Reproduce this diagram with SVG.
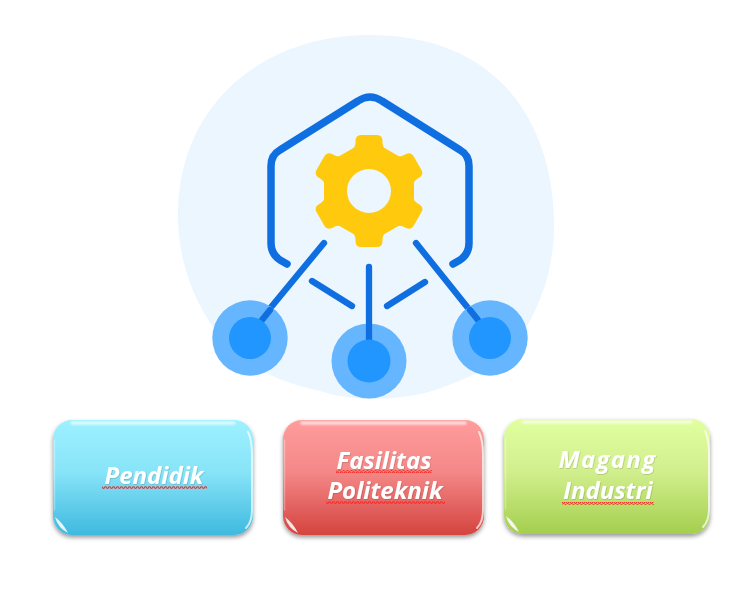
<svg xmlns="http://www.w3.org/2000/svg" width="746" height="616" viewBox="0 0 746 616">
<style>
.link{fill:none;stroke:#0F6FE0;stroke-width:6.300;stroke-linecap:round;stroke-linejoin:round}
.outer{fill:#66B5FF}
.inner{fill:#2196FF}
.lbl{font-family:"Open Sans","Liberation Sans",sans-serif;font-size:24px;font-weight:700;font-style:italic;fill:#fff;text-anchor:middle;filter:url(#ts)}
.hl{fill:none;stroke:#fff;stroke-linecap:round}
.glint{fill:#fff;opacity:.85}
</style>
<defs>
<linearGradient id="gc" x1="0" y1="0" x2="0" y2="1"><stop offset="0" stop-color="#9DF1FF"/><stop offset=".45" stop-color="#88E4F8"/><stop offset="1" stop-color="#3FB9DF"/></linearGradient>
<linearGradient id="gr" x1="0" y1="0" x2="0" y2="1"><stop offset="0" stop-color="#FF9C9C"/><stop offset=".45" stop-color="#F48888"/><stop offset="1" stop-color="#D4443F"/></linearGradient>
<linearGradient id="gg" x1="0" y1="0" x2="0" y2="1"><stop offset="0" stop-color="#E0FF9F"/><stop offset=".45" stop-color="#D2EF8E"/><stop offset="1" stop-color="#A4CF4E"/></linearGradient>
<filter id="sh" x="-10%" y="-10%" width="120%" height="125%"><feDropShadow dx="0" dy="2.500" stdDeviation="2.200" flood-color="#000" flood-opacity=".4"/></filter>
<filter id="ts" x="-10%" y="-20%" width="120%" height="140%"><feDropShadow dx=".6" dy=".6" stdDeviation=".5" flood-color="#000" flood-opacity=".22"/></filter>
<filter id="bl" filterUnits="userSpaceOnUse" x="0" y="0" width="746" height="616"><feGaussianBlur stdDeviation="1"/></filter>
<pattern id="sq" width="4" height="3" patternUnits="userSpaceOnUse"><path d="M0,2.400 L1,.8 2,.8 3,2.200 4,2.400" fill="none" stroke="#F0302A" stroke-width="1.100"/></pattern>
<path id="tooth" d="M-17,-41 C-14,-44 -13.500,-46 -13.500,-50 Q-13.500,-56 -8,-56 H8 Q13.500,-56 13.500,-50 C13.500,-46 14,-44 17,-41 Z"/>
</defs>

<g id="blob"><path fill="#ECF6FF" d="M370,35 C430,35 482,55 515,98 C543,135 554,180 554,225 C554,262 545,295 525,330 C505,362 470,380 425,393 C390,401 350,401 320,391 C285,383 240,368 215,330 C190,295 178,255 178,215 C178,165 195,120 232,85 C270,50 320,35 370,35 Z"/></g>

<g id="hexagon"><path fill="none" stroke="#0F6FE0" stroke-width="7.500" stroke-linecap="round" stroke-linejoin="round" d="M287,264 L280,260 Q271,254 271,243 V166 Q271,155 280,150 L358,101 Q370,93 382,101 L460,150 Q469,155 469,166 V243 Q469,254 460,260 L453,264"/></g>

<g id="gear" fill="#FFC90E" transform="translate(369,191)">
<polygon points="0,-52 45,-26 45,26 0,52 -45,26 -45,-26"/>
<use href="#tooth"/>
<use href="#tooth" transform="rotate(60)"/>
<use href="#tooth" transform="rotate(120)"/>
<use href="#tooth" transform="rotate(180)"/>
<use href="#tooth" transform="rotate(240)"/>
<use href="#tooth" transform="rotate(300)"/>
<circle r="22" fill="#ECF6FF"/>
</g>

<g id="connectors">
<path class="link" d="M324,243 L258,323"/>
<path class="link" d="M369,267 V345"/>
<path class="link" d="M416,243 L480,323"/>
<path class="link" d="M312,281 L352,306"/>
<path class="link" d="M425,282 L387,306"/>
</g>

<g id="node-left">
<circle class="outer" cx="250" cy="338" r="37.700"/><path class="link" d="M262,320 L270,310"/><circle class="inner" cx="250" cy="338" r="21"/>
</g>
<g id="node-center">
<circle class="outer" cx="369" cy="361" r="37.500"/><path class="link" stroke-linecap="butt" d="M369,325 V342"/><circle class="inner" cx="369" cy="361" r="21.500"/>
</g>
<g id="node-right">
<circle class="outer" cx="490" cy="338" r="37.700"/><path class="link" d="M478,320 L470,310"/><circle class="inner" cx="490" cy="338" r="21"/>
</g>

<g id="pendidik">
<rect x="53" y="420" width="200" height="115" rx="19" fill="url(#gc)" filter="url(#sh)"/>
<path class="hl" stroke-width="3" opacity=".75" filter="url(#bl)" d="M72,423 H234"/>
<path class="hl" stroke-width="2" opacity=".7" d="M248,432 Q252,440 252,455 V510 Q252,522 246,528"/>
<path class="hl" stroke-width="1.500" opacity=".3" d="M54.500,440 V510"/>
<path class="glint" d="M55,517 Q58,528 68,533 Q63,523 55,517 Z"/>
<text class="lbl" x="154" y="484">Pendidik</text>
<rect x="102" y="486" width="105" height="3" fill="url(#sq)"/>
</g>

<g id="fasilitas">
<rect x="283" y="420" width="201" height="115" rx="19" fill="url(#gr)" filter="url(#sh)"/>
<path class="hl" stroke-width="3" opacity=".75" filter="url(#bl)" d="M302,423 H465"/>
<path class="hl" stroke-width="2" opacity=".7" d="M479,432 Q483,440 483,455 V510 Q483,522 477,528"/>
<path class="hl" stroke-width="1.500" opacity=".3" d="M284.500,440 V510"/>
<path class="glint" d="M285,517 Q288,528 298,533 Q293,523 285,517 Z"/>
<text class="lbl" x="384" y="469">Fasilitas</text>
<text class="lbl" x="385" y="499">Politeknik</text>
<rect x="336" y="470" width="96" height="3" fill="url(#sq)"/>
<rect x="326" y="501" width="119" height="3" fill="url(#sq)"/>
</g>

<g id="magang">
<rect x="504" y="419" width="206" height="115" rx="19" fill="url(#gg)" filter="url(#sh)"/>
<path class="hl" stroke-width="3" opacity=".75" filter="url(#bl)" d="M523,422 H691"/>
<path class="hl" stroke-width="2" opacity=".7" d="M705,431 Q709,439 709,454 V509 Q709,521 703,527"/>
<path class="hl" stroke-width="1.500" opacity=".3" d="M505.500,439 V509"/>
<path class="glint" d="M506,516 Q509,527 519,532 Q514,522 506,516 Z"/>
<text class="lbl" x="607.500" y="468" letter-spacing="1.300">Magang</text>
<text class="lbl" x="608" y="499">Industri</text>
<rect x="562" y="502" width="92" height="3" fill="url(#sq)"/>
</g>
</svg>
